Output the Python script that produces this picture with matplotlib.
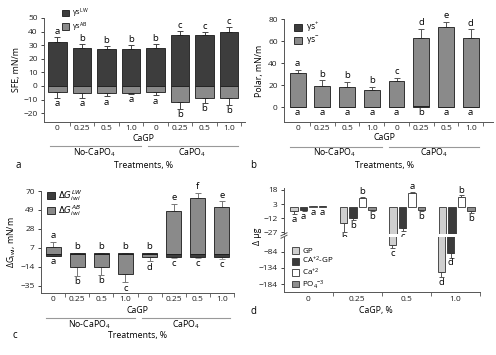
import matplotlib.pyplot as plt
import matplotlib.transforms as mtransforms
from matplotlib.patches import Patch

plt.rcParams['font.family'] = ['Open Sans', 'DejaVu Sans']
plt.rcParams['mathtext.default'] = 'regular'
plt.rcParams['font.size'] = 6

W, H = 496, 355

cagp_labels = ['0', '0.25', '0.5', '1.0', '0', '0.25', '0.5', '1.0']
group_labels = ['No-CaPO$_4$', 'CaPO$_4$']

# panel a: surface free energy
sfe_lw = [32.5, 28, 27.5, 27.5, 28, 37.5, 37.5, 40]
sfe_lw_err = [3.5, 3, 2, 2.5, 3, 3, 2, 3.5]
sfe_ab = [-4.5, -5, -5.5, -5, -4.5, -11.5, -9, -8.5]
sfe_ab_err = [4, 3.5, 2, 1, 2.5, 5.5, 3.5, 5.5]
sfe_lw_let = list('abbbbccc')
sfe_ab_let = list('aaaaabbb')

# panel b: polar components
pol_plus = [0.4, 0.3, 0.3, 0.3, 0.4, 1.0, 0.5, 0.5]
pol_minus = [30.5, 19, 18.5, 15, 23.5, 62, 72, 62]
pol_minus_err = [3, 5, 4, 3, 3, 8, 5, 8]
pol_minus_let = list('abbbcded')
pol_plus_let = list('aaaaabaa')

# panel c: free energy of interaction
dg_lw = [-2, 1.5, 1.5, 1.5, 1.5, -3, -3, -3.5]
dg_lw_err = [0, 0, 0, 0, 0, 1, 1, 1.5]
dg_ab = [8, -14, -14, -22, -3.5, 48, 62, 52]
dg_ab_err = [6, 10, 9, 9, 4.5, 8, 6, 7]
dg_top_let = list('abbbbefe')
dg_bot_let = list('abbcdccc')

# panel d: ion changes
d_groups = ['0', '0.25', '0.5', '1.0']
gp = [-4.8, -17, -63.5, -147]
gp_err = [2.8, 10, 10, 14]
ca_gp = [-3, -12, -22.4, -89]
ca_gp_err = [1, 1.7, 2.8, 13]
ca = [0.5, 9.3, 14.6, 11]
ca_err = [0.3, 1.7, 1.7, 1.8]
po4 = [0.5, -3.1, -3, -4]
po4_err = [0.5, 1, 1.8, 2.5]
d_letters = [list('abcd'), list('abcd'), list('abab'), list('abbb')]
d_names = ['GP', 'CA$^{+2}$-GP', 'Ca$^{+2}$', 'PO$_4$$^{-3}$']
d_colors = ['#cfcfcf', '#3b3b3b', '#ffffff', '#8e8e8e']

DARK = '#3d3d3d'
GRAY = '#8a8a8a'
EDGE = '#1a1a1a'
AXC = '#555555'


def px_axes(fig, left, top, right, bottom):
    return fig.add_axes([left / W, 1 - bottom / H, (right - left) / W, (bottom - top) / H])


def style(ax):
    for s in ['top', 'right']:
        ax.spines[s].set_visible(False)
    for s in ['left', 'bottom']:
        ax.spines[s].set_color(AXC)
        ax.spines[s].set_linewidth(0.7)
    ax.tick_params(colors='#222222', width=0.6, length=2.5, labelsize=6, pad=2)


def treatment_axis(ax, ytxt, label, xlab):
    x = range(8)
    ax.set_xticks(list(x))
    ax.set_xticklabels(cagp_labels)
    ax.tick_params(axis='x', length=0, pad=2.5)
    ax.set_xticks([0.5, 1.5, 2.5, 3.5, 4.5, 5.5, 6.5, 7.5], minor=True)
    ax.tick_params(axis='x', which='minor', length=3, width=0.6, color=AXC)
    tr = mtransforms.blended_transform_factory(ax.transData, ax.transAxes)
    ax.text(3.5, ytxt[0], 'CaGP', transform=tr, ha='center', va='center', fontsize=6.3)
    ax.plot([-0.3, 3.4], [ytxt[1]] * 2, transform=tr, color='#999999', lw=0.8, clip_on=False)
    ax.plot([3.7, 7.35], [ytxt[1]] * 2, transform=tr, color='#999999', lw=0.8, clip_on=False)
    ax.text(1.5, ytxt[2], group_labels[0], transform=tr, ha='center', va='center', fontsize=6.3)
    ax.text(5.5, ytxt[2], group_labels[1], transform=tr, ha='center', va='center', fontsize=6.3)
    ax.text(3.5, ytxt[3], 'Treatments, %', transform=tr, ha='center', va='center', fontsize=6.3)
    ax.text(xlab, ytxt[3], label, transform=tr, ha='center', va='center', fontsize=7)


def sq_legend(ax, handles_labels, loc_xy, fs=6.2):
    handles = [Patch(facecolor=c, edgecolor=EDGE, linewidth=0.6) for c, _ in handles_labels]
    leg = ax.legend(handles, [l for _, l in handles_labels], loc='upper left',
                    bbox_to_anchor=loc_xy, frameon=False, fontsize=fs,
                    handlelength=0.9, handleheight=0.9, handletextpad=0.4,
                    labelspacing=0.05, borderaxespad=0, borderpad=0)
    return leg


fig = plt.figure(figsize=(W / 100, H / 100), dpi=100)

# ---------------- panel a
ax = px_axes(fig, 44, 18, 245, 122)
style(ax)
x = list(range(8))
ax.bar(x, sfe_lw, width=0.76, color=DARK, edgecolor=EDGE, linewidth=0.6, zorder=2)
ax.bar(x, sfe_ab, width=0.76, color=GRAY, edgecolor=EDGE, linewidth=0.6, zorder=2)
ax.errorbar(x, sfe_lw, yerr=[[0] * 8, sfe_lw_err], fmt='none', ecolor='#444444',
            elinewidth=0.7, capsize=2.5, capthick=0.7, zorder=1)
ax.errorbar(x, sfe_ab, yerr=[sfe_ab_err, [0] * 8], fmt='none', ecolor='#444444',
            elinewidth=0.7, capsize=2.5, capthick=0.7, zorder=1)
for i in x:
    ax.text(i, sfe_lw[i] + sfe_lw_err[i] + 0.8, sfe_lw_let[i], ha='center', va='bottom', fontsize=6.8)
    ax.text(i, sfe_ab[i] - sfe_ab_err[i] - 1, sfe_ab_let[i], ha='center', va='top', fontsize=6.8)
ax.set_xlim(-0.55, 7.65)
ax.set_ylim(-26.5, 50)
ax.set_yticks([-20, -10, 0, 10, 20, 30, 40, 50])
ax.set_ylabel('SFE, mN/m', fontsize=6.3, labelpad=2)
treatment_axis(ax, [-0.155, -0.23, -0.293, -0.415], 'a', -1.6)
sq_legend(ax, [(DARK, r'γs$^{LW}$'), (GRAY, r'γs$^{AB}$')], (0.09, 1.11), fs=5.3)

# ---------------- panel b
ax = px_axes(fig, 284, 19, 493, 122)
style(ax)
ax.bar(x, pol_plus, width=0.64, color=DARK, edgecolor=EDGE, linewidth=0.6, zorder=2)
ax.bar(x, pol_minus, bottom=pol_plus, width=0.64, color=GRAY, edgecolor=EDGE, linewidth=0.6, zorder=2)
tops = [p + m for p, m in zip(pol_plus, pol_minus)]
ax.errorbar(x, tops, yerr=[[0] * 8, pol_minus_err], fmt='none', ecolor='#555555',
            elinewidth=0.7, capsize=2.5, capthick=0.7, zorder=1)
for i in x:
    ax.text(i, tops[i] + pol_minus_err[i] + 1.5, pol_minus_let[i], ha='center', va='bottom', fontsize=6.8)
    ax.text(i, -0.8, pol_plus_let[i], ha='center', va='top', fontsize=6.8)
ax.set_xlim(-0.55, 7.9)
ax.set_ylim(-13.3, 80)
ax.set_yticks([0, 20, 40, 60, 80])
ax.set_ylabel('Polar, mN/m', fontsize=6.3, labelpad=3)
treatment_axis(ax, [-0.155, -0.24, -0.295, -0.42], 'b', -1.8)
sq_legend(ax, [(DARK, r'γs$^{+}$'), (GRAY, r'γs$^{-}$')], (0.05, 0.98))

# ---------------- panel c
ax = px_axes(fig, 41, 191, 234, 293)
style(ax)
ax.bar(x, dg_ab, width=0.62, color=GRAY, edgecolor=EDGE, linewidth=0.6, zorder=2)
ax.bar(x, dg_lw, width=0.62, color=DARK, edgecolor=EDGE, linewidth=0.6, zorder=3)
ax.errorbar(x, dg_ab, yerr=[[e if v < 0 else 0 for v, e in zip(dg_ab, dg_ab_err)],
                            [e if v > 0 else 0 for v, e in zip(dg_ab, dg_ab_err)]],
            fmt='none', ecolor='#777777', elinewidth=0.7, capsize=2.5, capthick=0.7, zorder=1)
ax.errorbar(x, dg_lw, yerr=[dg_lw_err, [0] * 8], fmt='none', ecolor='#999999',
            elinewidth=0.7, capsize=2.5, capthick=0.7, zorder=1)
for i in x:
    hi = max(dg_ab[i], dg_lw[i])
    if dg_ab[i] > 0:
        hi = dg_ab[i] + dg_ab_err[i]
    lo = min(dg_ab[i], dg_lw[i])
    if dg_ab[i] < 0:
        lo = dg_ab[i] - dg_ab_err[i]
    else:
        lo = lo - dg_lw_err[i]
    ax.text(i, hi + 1.5, dg_top_let[i], ha='center', va='bottom', fontsize=6.8)
    ax.text(i, lo - 1.5, dg_bot_let[i], ha='center', va='top', fontsize=6.8)
ax.set_xlim(-0.5, 7.5)
ax.set_ylim(-43, 70)
ax.set_yticks([-35, -14, 7, 28, 49, 70])
ax.set_ylabel(r'$ΔG_{iwi}$, mN/m', fontsize=6.3, labelpad=2)
treatment_axis(ax, [-0.167, -0.245, -0.314, -0.415], 'c', -1.6)
sq_legend(ax, [(DARK, r'$\mathit{ΔG_{iwi}^{LW}}$'), (GRAY, r'$\mathit{ΔG_{iwi}^{AB}}$')], (0.03, 1.03))

# ---------------- panel d (broken axis)
axu = px_axes(fig, 284, 188, 480, 234)
axl = px_axes(fig, 284, 237, 480, 292)
series = [(gp, gp_err), (ca_gp, ca_gp_err), (ca, ca_err), (po4, po4_err)]
offs = [-0.285, -0.095, 0.095, 0.285]
for a in (axu, axl):
    style(a)
    for k, (vals, errs) in enumerate(series):
        xs = [g + offs[k] for g in range(4)]
        a.bar(xs, vals, width=0.15, color=d_colors[k], edgecolor='#333333', linewidth=0.6, zorder=2)
        lower = [e if v < 0 else 0 for v, e in zip(vals, errs)]
        upper = [e if v >= 0 else 0 for v, e in zip(vals, errs)]
        a.errorbar(xs, vals, yerr=[lower, upper], fmt='none', ecolor='#555555',
                   elinewidth=0.7, capsize=1.8, capthick=0.7, zorder=1)
    a.set_xlim(-0.49, 3.47)
axu.set_ylim(-28.6, 20)
axl.set_ylim(-208, -39)
axu.set_yticks([-27, -12, 3, 18])
axl.set_yticks([-184, -134, -84])
axu.spines['bottom'].set_visible(False)
axu.tick_params(axis='x', bottom=False, labelbottom=False)
axl.set_xticks(range(4))
axl.set_xticklabels(d_groups)
axl.tick_params(axis='x', length=0, pad=3)
axl.set_xticks([0.5, 1.5, 2.5, 3.5], minor=True)
axl.tick_params(axis='x', which='minor', length=3, width=0.6, color=AXC)
for k, (vals, errs) in enumerate(series):
    for g in range(4):
        v, e = vals[g], errs[g]
        xg = g + offs[k]
        if g == 0:
            # smallest dose: all letters sit under the bars
            axu.text(xg, min(v, 0) - e - 1, d_letters[k][g], ha='center', va='top', fontsize=6.8)
        elif v >= 0:
            axu.text(xg, v + e + 0.2, d_letters[k][g], ha='center', va='bottom', fontsize=6.8)
        elif v - e > -30:
            axu.text(xg, v - e - 0.8, d_letters[k][g], ha='center', va='top', fontsize=6.8)
        else:
            axl.text(xg, v - e - 3, d_letters[k][g], ha='center', va='top', fontsize=6.8)
# break marks
for yy in (234.3, 236.7):
    fig.add_artist(plt.Line2D([281 / W, 287 / W], [1 - (yy + 1.5) / H, 1 - (yy - 1.5) / H],
                              color=AXC, lw=0.7))
fig.text(258 / W, 1 - 236 / H, 'Δ μg', rotation=90, ha='center', va='center', fontsize=6.3)
fig.text(376 / W, 1 - 311 / H, 'CaGP, %', ha='center', va='center', fontsize=6.3)
fig.text(253 / W, 1 - 311 / H, 'd', ha='center', va='center', fontsize=7)
handles = [Patch(facecolor=c, edgecolor='#333333', linewidth=0.6) for c in d_colors]
axl.legend(handles, d_names, loc='upper left', bbox_to_anchor=(0.04, 0.82), frameon=False,
           fontsize=5.8, handlelength=0.9, handleheight=0.9, handletextpad=0.4,
           labelspacing=0.02, borderaxespad=0, borderpad=0)

fig.savefig('out.png', dpi=100)
